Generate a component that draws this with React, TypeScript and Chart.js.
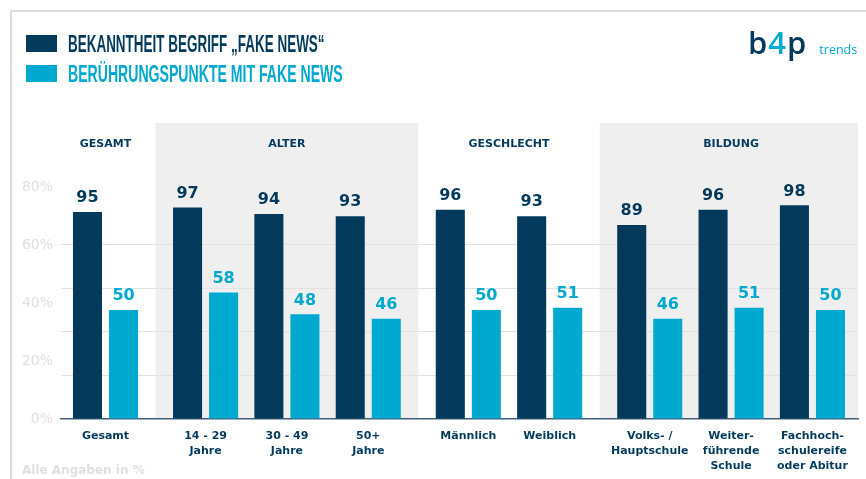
import React, { useEffect, useRef } from 'react';
import { Chart, registerables } from 'chart.js';

Chart.register(...registerables);

// ---------- data ----------
const groups = ['GESAMT', 'ALTER', 'GESCHLECHT', 'BILDUNG'];
const groupSizes = [1, 3, 2, 3];
const categories: string[][] = [
  ['Gesamt'],
  ['14 - 29', 'Jahre'],
  ['30 - 49', 'Jahre'],
  ['50+', 'Jahre'],
  ['Männlich'],
  ['Weiblich'],
  ['Volks- /', 'Hauptschule'],
  ['Weiter-', 'führende', 'Schule'],
  ['Fachhoch-', 'schulereife', 'oder Abitur'],
];
const bekanntheit = [95, 97, 94, 93, 96, 93, 89, 96, 98];
const beruehrung = [50, 58, 48, 46, 50, 51, 46, 51, 50];
const yTickValues = [0, 20, 40, 60, 80];
const seriesNames = ['BEKANNTHEIT BEGRIFF „FAKE NEWS“', 'BERÜHRUNGSPUNKTE MIT FAKE NEWS'];
const footnote = 'Alle Angaben in %';

// ---------- style ----------
const DARK = '#033a5c';
const LIGHT = '#00a9cf';
const GREY_BG = '#efefef';
const FONT = '"DejaVu Sans", "Noto Sans", sans-serif';
const GROUP_GAP = 0.23;

const groupOfCat: number[] = [];
groupSizes.forEach((n, g) => {
  for (let i = 0; i < n; i++) groupOfCat.push(g);
});
const xPos = categories.map((_, i) => i + groupOfCat[i] * GROUP_GAP);

const groupPlugin = {
  id: 'groupBg',
  beforeDraw(chart: any) {
    const { ctx, chartArea, scales } = chart;
    const x = scales.x;
    let start = 0;
    ctx.save();
    groups.forEach((name, gi) => {
      const first = start;
      const last = start + groupSizes[gi] - 1;
      const left = first === 0 ? chartArea.left : (x.getPixelForValue(xPos[first]) + x.getPixelForValue(xPos[first - 1])) / 2;
      const right = last === xPos.length - 1 ? chartArea.right : (x.getPixelForValue(xPos[last]) + x.getPixelForValue(xPos[last + 1])) / 2;
      if (gi % 2 === 1) {
        ctx.fillStyle = GREY_BG;
        ctx.fillRect(left, chartArea.top, right - left, chartArea.bottom - chartArea.top);
      }
      const cx = (x.getPixelForValue(xPos[first]) + x.getPixelForValue(xPos[last])) / 2;
      ctx.fillStyle = DARK;
      ctx.font = `bold 11px ${FONT}`;
      ctx.textAlign = 'center';
      ctx.textBaseline = 'middle';
      ctx.fillText(name, cx, chartArea.top + 21);
      start += groupSizes[gi];
    });
    ctx.restore();
  },
};

const valuePlugin = {
  id: 'values',
  afterDatasetsDraw(chart: any) {
    const { ctx } = chart;
    const all = [bekanntheit, beruehrung];
    ctx.save();
    ctx.font = `bold 16px ${FONT}`;
    ctx.textAlign = 'center';
    ctx.textBaseline = 'middle';
    chart.data.datasets.forEach((_: any, di: number) => {
      const meta = chart.getDatasetMeta(di);
      ctx.fillStyle = di === 0 ? DARK : LIGHT;
      meta.data.forEach((el: any, i: number) => {
        ctx.fillText(String(all[di][i]), el.x, el.y - 14);
      });
    });
    ctx.restore();
  },
};

export default function App() {
  const ref = useRef<HTMLCanvasElement | null>(null);

  useEffect(() => {
    if (!ref.current) return;
    const chart = new Chart(ref.current, {
      type: 'bar',
      data: {
        datasets: [
          {
            label: seriesNames[0],
            data: xPos.map((x, i) => ({ x, y: bekanntheit[i] })),
            backgroundColor: DARK,
            categoryPercentage: 0.886,
            barPercentage: 0.806,
          },
          {
            label: seriesNames[1],
            data: xPos.map((x, i) => ({ x, y: beruehrung[i] })),
            backgroundColor: LIGHT,
            categoryPercentage: 0.886,
            barPercentage: 0.806,
          },
        ],
      },
      options: {
        responsive: false,
        animation: false,
        devicePixelRatio: 1,
        layout: { padding: { top: 123, left: 0, right: 0, bottom: 0 } },
        plugins: {
          legend: { display: false },
          tooltip: { enabled: false },
          title: { display: false },
        },
        scales: {
          x: {
            type: 'linear',
            offset: false,
            min: -0.547,
            max: 9.25,
            grid: { display: false, drawTicks: false, offset: false },
            border: { display: true, color: '#3f5e78', width: 1.5 },
            afterBuildTicks: (s: any) => {
              s.ticks = xPos.map((v) => ({ value: v }));
            },
            afterFit: (s: any) => {
              s.height = 60;
            },
            ticks: {
              autoSkip: false,
              maxRotation: 0,
              minRotation: 0,
              padding: 10,
              color: DARK,
              font: { family: FONT, size: 11, weight: 'bold', lineHeight: '15px' },
              callback: (_v: any, i: number) => categories[i],
            },
          },
          y: {
            position: 'right',
            min: 0,
            max: 296 / 2.18,
            border: { display: false },
            ticks: { display: false, stepSize: 20 },
            grid: {
              drawTicks: false,
              lineWidth: 1,
              color: (c: any) =>
                c.tick && c.tick.value > 0 && c.tick.value <= 80 ? '#e2e2e2' : 'rgba(0,0,0,0)',
            },
            afterFit: (s: any) => {
              s.width = 8;
            },
          },
          y2: {
            position: 'left',
            min: 0,
            max: 296 / 2.9,
            border: { display: false },
            grid: { display: false, drawTicks: false },
            ticks: {
              stepSize: 20,
              padding: 8,
              color: '#e0e0e0',
              font: { family: FONT, size: 14 },
              callback: (v: any) => (yTickValues.includes(v) ? `${v}%` : ''),
            },
            afterFit: (s: any) => {
              s.width = 61;
            },
          },
        },
      } as any,
      plugins: [groupPlugin, valuePlugin],
    });
    return () => chart.destroy();
  }, []);

  const titleStyle = (color: string, top: number, scale: number): React.CSSProperties => ({
    position: 'absolute',
    left: 68,
    top,
    fontFamily: '"Liberation Sans", sans-serif',
    fontWeight: 'bold',
    fontSize: 24,
    lineHeight: '24px',
    color,
    whiteSpace: 'nowrap',
    transform: `scaleX(${scale})`,
    transformOrigin: 'left center',
  });

  return (
    <div style={{ position: 'absolute', left: 0, top: 0, width: 866, height: 479, background: '#fff', overflow: 'hidden' }}>
      <div style={{ position: 'absolute', left: 10, top: 10, width: 870, height: 480, borderTop: '2px solid #dcdcdc', borderLeft: '2px solid #dcdcdc' }} />
      <canvas ref={ref} width={866} height={479} style={{ position: 'absolute', left: 0, top: 0, width: 866, height: 479 }} />
      <div style={{ position: 'absolute', left: 26, top: 35, width: 31, height: 17, background: DARK }} />
      <div style={{ position: 'absolute', left: 26, top: 65, width: 31, height: 17, background: LIGHT }} />
      <div style={titleStyle(DARK, 32, 0.561)}>{seriesNames[0]}</div>
      <div style={titleStyle(LIGHT, 62, 0.587)}>{seriesNames[1]}</div>
      <div style={{ position: 'absolute', left: 748, top: 27, fontFamily: '"Open Sans", sans-serif', fontWeight: 600, fontSize: 31, lineHeight: '31px', whiteSpace: 'nowrap', letterSpacing: 1 }}>
        <span style={{ color: DARK }}>b</span>
        <span style={{ color: LIGHT }}>4</span>
        <span style={{ color: DARK }}>p</span>
        <span style={{ color: LIGHT, fontSize: 12.5, fontWeight: 400, marginLeft: 12, letterSpacing: 0 }}>trends</span>
      </div>
      <div style={{ position: 'absolute', left: 22, top: 462, fontFamily: FONT, fontWeight: 'bold', fontSize: 12, lineHeight: '16px', color: '#e0e0e0', whiteSpace: 'nowrap' }}>
        {footnote}
      </div>
    </div>
  );
}
